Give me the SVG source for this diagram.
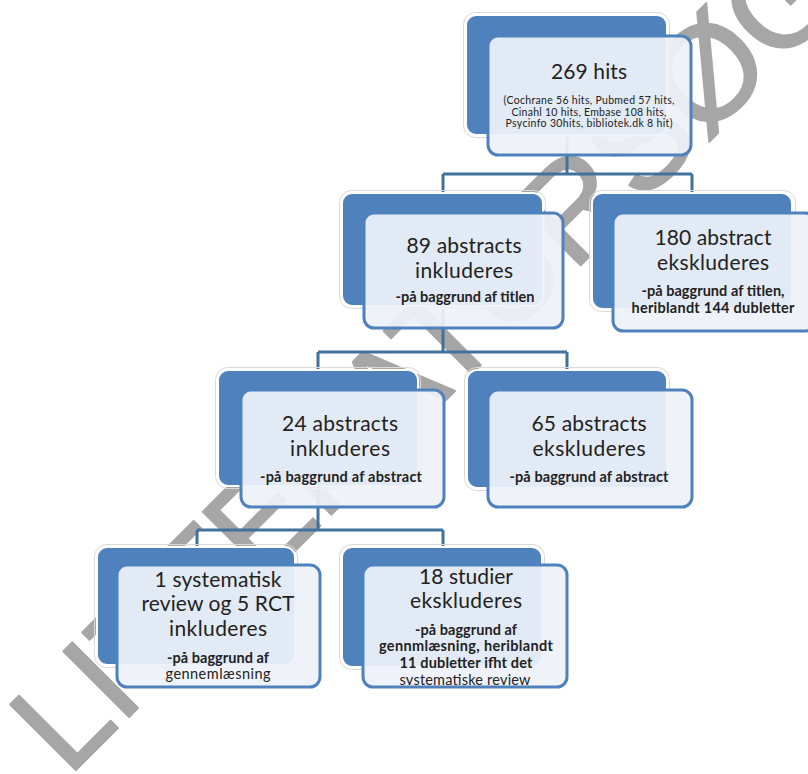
<svg xmlns="http://www.w3.org/2000/svg" width="808" height="774" viewBox="0 0 808 774">
<style>
.back{fill:#4f81bd;stroke:#ffffff;stroke-width:2}
.halo{fill:none;stroke:#d9d9d9;stroke-width:1}
.front{fill:#eef2f9;fill-opacity:0.93;stroke:#4f81bd;stroke-width:3}
.conn{fill:none;stroke:#41719c;stroke-width:3}
.t{font-family:Lato,"Liberation Sans",sans-serif;fill:#222222;text-anchor:middle}
.h{font-size:21px}
.s{font-size:14.5px;font-weight:bold}
.r{font-size:14.5px}
.x{font-size:10.5px}
.wm{font-family:"Liberation Sans",sans-serif;font-size:135px;fill:#a6a6a6;stroke:#a6a6a6;stroke-width:2;stroke-linejoin:round}
</style>
<defs>
<clipPath id="c7"><rect x="364" y="566" width="202" height="119"/></clipPath>
</defs>
<rect width="808" height="774" fill="#ffffff"/>
<g id="watermark">
<text class="wm" x="68" y="778" transform="rotate(-45 68 778)" textLength="1440" lengthAdjust="spacing">LITTERATURSØGNING</text>
</g>
<g id="connectors">
<path class="conn" d="M567,75 V174 M443,174 H692 M443,174 V194 M692,174 V194"/>
<path class="conn" d="M443,250 V352 M318,352 H567 M318,352 V371 M567,352 V371"/>
<path class="conn" d="M318,430 V530 M197,530 H443 M197,530 V548 M443,530 V548"/>
</g>
<g id="n1">
<rect class="halo" x="463.5" y="12.5" width="206" height="125" rx="12"/>
<rect class="back" x="466" y="15" width="201" height="120" rx="10"/>
<rect class="front" x="488" y="36" width="203" height="119" rx="10"/>
<text class="t h" x="589" y="79" textLength="76">269 hits</text>
<text class="t x" x="589" y="104" textLength="171">(Cochrane 56 hits, Pubmed 57 hits,</text>
<text class="t x" x="589" y="116" textLength="155">Cinahl 10 hits, Embase 108 hits,</text>
<text class="t x" x="589" y="127" textLength="167">Psycinfo 30hits, bibliotek.dk 8 hit)</text>
</g>
<g id="n2">
<rect class="halo" x="339.5" y="190.5" width="206" height="118" rx="12"/>
<rect class="back" x="342" y="193" width="201" height="113" rx="10"/>
<rect class="front" x="364" y="213" width="199" height="115" rx="10"/>
<text class="t h" x="464" y="253" textLength="115">89 abstracts</text>
<text class="t h" x="464" y="278" textLength="98">inkluderes</text>
<text class="t s" x="465" y="302" textLength="139">-på baggrund af titlen</text>
</g>
<g id="n3">
<rect class="halo" x="589.5" y="190.5" width="206" height="121" rx="12"/>
<rect class="back" x="592" y="193" width="200" height="116" rx="10"/>
<rect class="front" x="613" y="213" width="202" height="118" rx="10"/>
<text class="t h" x="713" y="245" textLength="117">180 abstract</text>
<text class="t h" x="713" y="270" textLength="112">ekskluderes</text>
<text class="t s" x="713" y="296" textLength="143">-på baggrund af titlen,</text>
<text class="t s" x="713" y="313" textLength="163">heriblandt 144 dubletter</text>
</g>
<g id="n4">
<rect class="halo" x="215.5" y="367.5" width="205" height="121" rx="12"/>
<rect class="back" x="218" y="370" width="200" height="116" rx="10"/>
<rect class="front" x="241" y="390" width="203" height="117" rx="10"/>
<text class="t h" x="340" y="431" textLength="116">24 abstracts</text>
<text class="t h" x="340" y="456" textLength="100">inkluderes</text>
<text class="t s" x="341" y="482" textLength="162">-på baggrund af abstract</text>
</g>
<g id="n5">
<rect class="halo" x="464.5" y="367.5" width="205" height="123" rx="12"/>
<rect class="back" x="467" y="370" width="200" height="118" rx="10"/>
<rect class="front" x="488" y="390" width="204" height="117" rx="10"/>
<text class="t h" x="589" y="431" textLength="115">65 abstracts</text>
<text class="t h" x="589" y="456" textLength="113">ekskluderes</text>
<text class="t s" x="589" y="482" textLength="159">-på baggrund af abstract</text>
</g>
<g id="n6">
<rect class="halo" x="94.5" y="544.5" width="203" height="123" rx="12"/>
<rect class="back" x="97" y="547" width="198" height="118" rx="10"/>
<rect class="front" x="117" y="565" width="203" height="122" rx="10"/>
<text class="t h" x="218" y="587" textLength="127">1 systematisk</text>
<text class="t h" x="218" y="611" textLength="153">review og 5 RCT</text>
<text class="t h" x="218" y="636" textLength="98">inkluderes</text>
<text class="t s" x="218" y="663" textLength="102">-på baggrund af</text>
<text class="t r" x="218" y="679" textLength="105">gennemlæsning</text>
</g>
<g id="n7">
<rect class="halo" x="339.5" y="544.5" width="205" height="125" rx="12"/>
<rect class="back" x="342" y="547" width="200" height="120" rx="10"/>
<rect class="front" x="363" y="565" width="204" height="122" rx="10"/>
<g clip-path="url(#c7)">
<text class="t h" x="466" y="584" textLength="94">18 studier</text>
<text class="t h" x="466" y="608" textLength="112">ekskluderes</text>
<text class="t s" x="466" y="635" textLength="102">-på baggrund af</text>
<text class="t s" x="466" y="651" textLength="174">gennmlæsning, heriblandt</text>
<text class="t s" x="466" y="668" textLength="133">11 dubletter ifht det</text>
<text class="t r" x="465" y="685" textLength="131">systematiske review</text>
</g>
</g>
</svg>
